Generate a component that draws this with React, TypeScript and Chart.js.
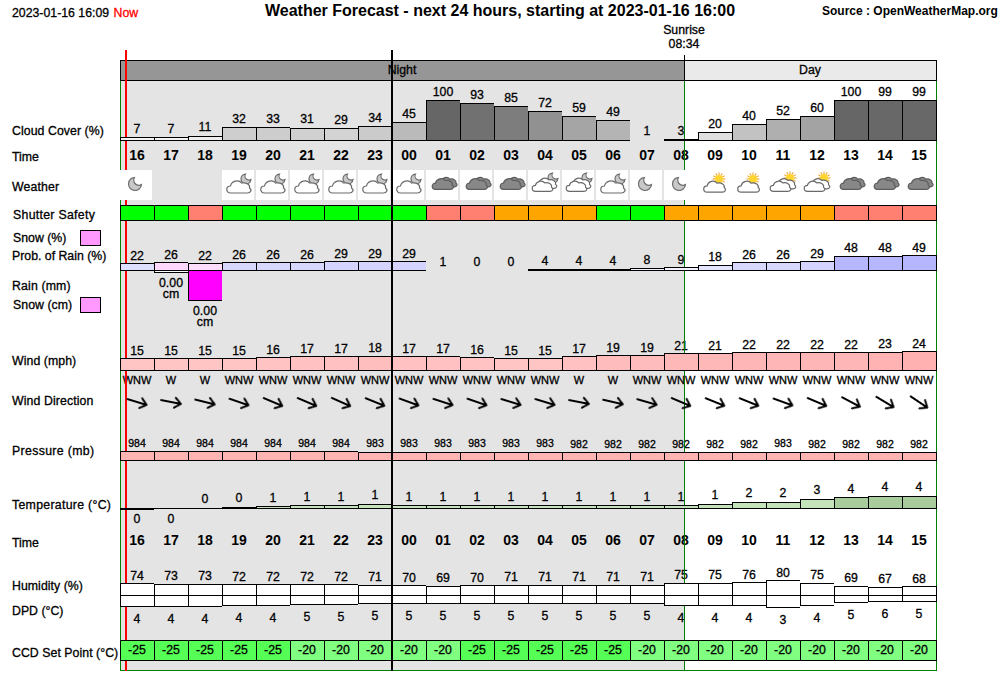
import React, { useEffect, useRef } from "react";
import { Chart, registerables } from "chart.js";

Chart.register(...registerables);

// ---------- data ----------
const hours = ["16","17","18","19","20","21","22","23","00","01","02","03","04","05","06","07","08","09","10","11","12","13","14","15"];
const cloudCover = [7,7,11,32,33,31,29,34,45,100,93,85,72,59,49,1,3,20,40,52,60,100,99,99];
const weatherKinds = ["moon",null,null,"cloudMoon","cloudMoon","cloudMoon","cloudMoon","cloudMoon","cloudMoon","dark","dark","dark","cloudsMoon","cloudsMoon","cloudMoon","moon","moon","cloudSun","cloudSun","cloudsSun","cloudsSun","dark","dark","dark"];
const shutterSafety = ["safe","safe","risk","safe","safe","safe","safe","safe","safe","risk","risk","warn","warn","warn","safe","safe","warn","warn","warn","warn","warn","risk","risk","risk"];
const rainProbability = [22,26,22,26,26,26,29,29,29,1,0,0,4,4,4,8,9,18,26,26,29,48,48,49];
const snowAmount = [0,0.0002,0.003,0,0,0,0,0,0,0,0,0,0,0,0,0,0,0,0,0,0,0,0,0];
const windSpeed = [15,15,15,15,16,17,17,18,17,17,16,15,15,17,19,19,21,21,22,22,22,22,23,24];
const windNames = ["WNW","W","W","WNW","WNW","WNW","WNW","WNW","WNW","WNW","WNW","WNW","WNW","W","W","WNW","WNW","WNW","WNW","WNW","WNW","WNW","WNW","WNW"];
const windDegrees = [287,281,284,289,293,293,294,292,290,288,289,287,287,281,283,286,293,292,292,290,293,298,301,304];
const pressure = [984,984,984,984,984,984,984,983,983,983,983,983,983,982,982,982,982,982,982,983,982,982,982,982];
const temperature = [-0.3,-0.1,0,0.3,0.6,0.9,0.9,1.3,0.9,0.9,0.9,0.9,0.9,0.9,0.9,0.9,0.9,1.3,2,2,3,3.6,4,4];
const temperatureText = ["0","0","0","0","1","1","1","1","1","1","1","1","1","1","1","1","1","1","2","2","3","4","4","4"];
const humidity = [74,73,73,72,72,72,72,71,70,69,70,71,71,71,71,71,75,75,76,80,75,69,67,68];
const dpdBarLevel = [11,11,11,10,10,9,9,8,8,8,8,8,8,8,8,8,10,10,10,12,10,7,6,6];
const dpdText = ["4","4","4","4","4","5","5","5","5","5","5","5","5","5","5","5","4","4","4","3","4","5","6","5"];
const ccdSetPoint = [-25,-25,-25,-25,-25,-20,-20,-20,-20,-20,-25,-25,-25,-25,-25,-20,-20,-20,-20,-20,-20,-20,-20,-20];
const rowLabels = ["Cloud Cover (%)","Time","Weather","Shutter Safety","Snow (%)","Prob. of Rain (%)","Rain (mm)","Snow (cm)","Wind (mph)","Wind Direction","Pressure (mb)","Temperature (°C)","Time","Humidity (%)","DPD (°C)","CCD Set Point (°C)"];
const titleText = "Weather Forecast - next 24 hours, starting at 2023-01-16 16:00";
const nowText = "2023-01-16 16:09";
const sourceText = "Source : OpenWeatherMap.org";
const sunriseText = "08:34";
const sunriseHour = 16.59; // hours after 16:00
const nowHour = 0.15;
const midnightHour = 8;

// ---------- layout ----------
const AREA_TOP = 60;
const AREA_BOTTOM = 671;
const AREA_LEFT = 120;
const AREA_RIGHT = 936;
const PRESSURE_BASE = 966;
const HUMIDITY_BASE = 50;
const LABEL_Y = [130.5,157,187,214.5,237.5,255.5,285.5,304.5,360.5,400.5,450.5,504.5,542.5,585.5,610.5,652.5];
const LABEL_X = [12,12,12,13,13,12,12,13,12,12,12,12,12,12,12,12];
const LABEL_SPACING = [0.07,0,0.15,0.3,0,0,0.15,0.05,0.07,0.1,0.35,0.3,0,0.05,0,0.05];
const FONT = '"Liberation Sans", Arial, sans-serif';
const BODY = "12.3px";

// one row of the panel: pixel of its baseline, pixels per unit, value at the baseline
const ROWS: any = {
  yCloud: { y0: 140, k: 0.4, base: 0 },
  yShutter: { y0: 220, k: 15, base: 0 },
  yProb: { y0: 270, k: 0.3, base: 0 },
  ySnow: { y0: 270, k: 10000, base: 0, reverse: true },
  yWind: { y0: 370, k: 0.8, base: 0 },
  yPressure: { y0: 460, k: 0.5, base: PRESSURE_BASE },
  yTemp: { y0: 508, k: 3, base: 0 },
  yHum: { y0: 595, k: 0.5, base: HUMIDITY_BASE },
  yDpd: { y0: 595, k: 1, base: 0, reverse: true },
  yCcd: { y0: 660, k: 20, base: 0 },
  yWeather: { y0: 185, k: 1, base: 1 },
  yArrow: { y0: 402, k: 1, base: 1 },
};
const rowBounds = (r: any, top: number, bottom: number) =>
  r.reverse
    ? { min: r.base - (r.y0 - top) / r.k, max: r.base + (bottom - r.y0) / r.k }
    : { min: r.base - (bottom - r.y0) / r.k, max: r.base + (r.y0 - top) / r.k };

const rowScales: any = {};
Object.keys(ROWS).forEach((id) => {
  rowScales[id] = {
    type: "linear", display: false, bounds: "data", beginAtZero: false, reverse: !!ROWS[id].reverse,
    ...rowBounds(ROWS[id], AREA_TOP, AREA_BOTTOM),
  };
});

const edge = (show: (i: number) => boolean = () => true) => (c: any) =>
  show(c.dataIndex)
    ? { top: 1, left: 1, bottom: 1, right: c.dataIndex === hours.length - 1 ? 1 : 0 }
    : 0;

const barDefaults = {
  type: "bar", grouped: false, barPercentage: 1, categoryPercentage: 1, inflateAmount: 0,
  borderSkipped: false, borderColor: "#000", clip: false, xAxisID: "x",
};

const grey = (v: number) => { const g = Math.round(255 - v * 1.53); return `rgb(${g},${g},${g})`; };
const safetyColor: any = { safe: "#00ff00", warn: "#ffa500", risk: "#ff8070" };

// ---------- weather icons ----------
function cloud(c: CanvasRenderingContext2D, x: number, y: number, s: number, fill: string, line: string) {
  c.save();
  c.translate(x, y);
  c.scale(s, s);
  c.beginPath();
  c.moveTo(4, 14);
  c.bezierCurveTo(-1, 14, -1, 7, 4, 7);
  c.bezierCurveTo(5, 2, 12, 0, 15, 4);
  c.bezierCurveTo(20, 3, 24, 6, 23, 9);
  c.bezierCurveTo(26, 11, 24, 14, 21, 14);
  c.closePath();
  c.fillStyle = fill;
  c.fill();
  c.lineWidth = 1.2 / s;
  c.strokeStyle = line;
  c.stroke();
  c.restore();
}
function moon(c: CanvasRenderingContext2D, x: number, y: number, r: number) {
  const dx = r * 0.6, dy = -r * 0.6, r2 = r * 0.8;
  const d = Math.hypot(dx, dy);
  const a = (r * r - r2 * r2 + d * d) / (2 * d);
  const phi = Math.acos(a / r);
  const theta = Math.atan2(dy, dx);
  const px = r * Math.cos(theta - phi) - dx, py = r * Math.sin(theta - phi) - dy;
  const qx = r * Math.cos(theta + phi) - dx, qy = r * Math.sin(theta + phi) - dy;
  c.save();
  c.beginPath();
  c.arc(x, y, r, theta + phi, theta - phi + Math.PI * 2, false);
  c.arc(x + dx, y + dy, r2, Math.atan2(py, px), Math.atan2(qy, qx), true);
  c.closePath();
  c.fillStyle = "#c8c8c8";
  c.fill();
  c.lineWidth = 1.2;
  c.strokeStyle = "#6e6e6e";
  c.stroke();
  c.restore();
}
function sun(c: CanvasRenderingContext2D, x: number, y: number) {
  c.save();
  c.strokeStyle = "#f2a93b";
  c.lineWidth = 1.2;
  for (let a = 0; a < 12; a++) {
    const t = (a / 12) * Math.PI * 2;
    c.beginPath();
    c.moveTo(x + Math.cos(t) * 4, y + Math.sin(t) * 4);
    c.lineTo(x + Math.cos(t) * 6.5, y + Math.sin(t) * 6.5);
    c.stroke();
  }
  c.beginPath();
  c.arc(x, y, 4, 0, Math.PI * 2);
  c.fillStyle = "#ffd52e";
  c.fill();
  c.restore();
}
function makeIcon(kind: string | null) {
  const cv = document.createElement("canvas");
  cv.width = 34;
  cv.height = 30;
  const c = cv.getContext("2d")!;
  c.fillStyle = "#fff";
  c.fillRect(0, 0, 32, 30);
  const W = "#ffffff", L = "#6a6a6a";
  if (kind === "moon") moon(c, 15, 14, 6.5);
  if (kind === "cloudMoon") { moon(c, 24, 9, 5); cloud(c, 4.5, 9, 1, W, L); }
  if (kind === "cloudsMoon") { moon(c, 25, 8, 5); cloud(c, 8, 6.5, 0.85, W, L); cloud(c, 4, 9.5, 0.85, W, L); }
  if (kind === "cloudSun") { sun(c, 21, 9); cloud(c, 5.5, 9.5, 0.9, W, L); }
  if (kind === "cloudsSun") { sun(c, 24, 8); cloud(c, 9, 7, 0.85, W, L); cloud(c, 4, 9.5, 0.85, W, L); }
  if (kind === "dark") { cloud(c, 12, 6, 0.78, "#888", "#5c5c5c"); cloud(c, 6, 7, 0.88, "#888", "#5c5c5c"); }
  return cv;
}
function makeArrow() {
  const cv = document.createElement("canvas");
  cv.width = 30;
  cv.height = 30;
  const c = cv.getContext("2d")!;
  c.strokeStyle = "#000";
  c.lineWidth = 2;
  c.lineCap = "round";
  c.lineJoin = "round";
  c.beginPath();
  c.moveTo(5, 15);
  c.lineTo(25, 15);
  c.moveTo(19, 10);
  c.lineTo(25, 15);
  c.lineTo(19, 20);
  c.stroke();
  return cv;
}

// ---------- plugins ----------
const fitRows = {
  id: "fitRows",
  afterLayout(chart: any) {
    Object.keys(ROWS).forEach((id) => {
      const sc = chart.scales[id];
      const b = rowBounds(ROWS[id], sc.top, sc.bottom);
      sc.min = b.min;
      sc.max = b.max;
      sc.configure();
    });
  },
};

const snapBars = {
  id: "snapBars",
  afterDatasetsUpdate(chart: any) {
    chart.data.datasets.forEach((_: any, i: number) => {
      const meta = chart.getDatasetMeta(i);
      if (meta.type !== "bar") return;
      meta.data.forEach((el: any, idx: number) => {
        const y = Math.round(el.y), b = Math.round(el.base);
        if (y > b) { el.y = y + 1; el.base = b; }
        else { el.y = y; el.base = b + 1; }
        el.width = 34;
        if (idx === hours.length - 1) { el.width = 35; el.x += 0.5; }
      });
    });
  },
};

function txt(c: any, s: string, x: number, y: number, font: string, color = "#000", align = "center", spacing = 0) {
  c.font = `${font} ${FONT}`;
  c.letterSpacing = `${spacing}px`;
  c.fillStyle = color;
  c.textAlign = align;
  c.textBaseline = "middle";
  c.fillText(s, x, y + 1);
  if (!font.startsWith("bold")) {
    c.strokeStyle = color;
    c.lineWidth = 0.3;
    c.strokeText(s, x, y + 1);
  }
  c.letterSpacing = "0px";
}

// an hour offset, 0 being the left edge of the first column, on the category axis
const hourPixel = (chart: any, hour: number) => chart.scales.x.getPixelForValue(hour - 0.5);

const decor = {
  id: "decor",
  beforeDraw(chart: any) {
    chart.ctx.fillStyle = "#fff";
    chart.ctx.fillRect(0, 0, chart.width, chart.height);
  },
  beforeDatasetsDraw(chart: any) {
    const c = chart.ctx, s = chart.scales;
    const sx = Math.round(hourPixel(chart, sunriseHour));
    const nx = Math.ceil(hourPixel(chart, nowHour));
    const cx = (i: number) => s.x.getPixelForValue(i);
    c.save();
    // night background
    c.fillStyle = "#e4e4e4";
    c.fillRect(AREA_LEFT, 80, sx - AREA_LEFT, AREA_BOTTOM - 1 - 80);
    // night / day band
    c.fillStyle = "#000";
    c.fillRect(AREA_LEFT, 60, AREA_RIGHT + 1 - AREA_LEFT, 21);
    c.fillStyle = "#969696";
    c.fillRect(AREA_LEFT + 1, 61, sx - AREA_LEFT - 1, 19);
    c.fillStyle = "#eaeaea";
    c.fillRect(sx + 1, 61, AREA_RIGHT - sx - 1, 19);
    txt(c, "Night", (AREA_LEFT + sx) / 2, 70, BODY);
    txt(c, "Day", (sx + AREA_RIGHT) / 2, 70, BODY);

    // page texts
    txt(c, nowText, 12, 13, BODY, "#000", "left");
    txt(c, "Now", 113.5, 13, BODY, "#f00", "left");
    txt(c, titleText, 500, 11, "bold 16px");
    txt(c, sourceText, 822, 10.5, "bold 12px", "#000", "left");
    txt(c, "Sunrise", sx, 30, BODY);
    txt(c, sunriseText, sx, 44, BODY);
    rowLabels.forEach((t, i) => txt(c, t, LABEL_X[i], LABEL_Y[i], BODY, "#000", "left", LABEL_SPACING[i]));

    // legend swatches
    [230, 297].forEach((y) => {
      c.fillStyle = "#000";
      c.fillRect(80, y, 21, 16);
      c.fillStyle = "#ff99ff";
      c.fillRect(81, y + 1, 19, 14);
    });

    // value labels
    hours.forEach((h, i) => {
      const x = cx(i);
      txt(c, String(cloudCover[i]), x, s.yCloud.getPixelForValue(cloudCover[i]) - 8.5, BODY);
      txt(c, h, x, 155.5, "bold 14px");
      txt(c, h, x, 540.5, "bold 14px");
      txt(c, String(rainProbability[i]), x, s.yProb.getPixelForValue(rainProbability[i]) - 8, BODY);
      if (snowAmount[i] > 0) {
        const b = s.ySnow.getPixelForValue(snowAmount[i]);
        txt(c, snowAmount[i].toFixed(2), x, b + 11, BODY);
        txt(c, "cm", x, b + 22, BODY);
      }
      txt(c, String(windSpeed[i]), x, s.yWind.getPixelForValue(windSpeed[i]) - 7.5, BODY);
      txt(c, windNames[i], x, 380, "11px");
      txt(c, String(pressure[i]), x, s.yPressure.getPixelForValue(pressure[i]) - 8, "10.5px");
      const tv = temperature[i];
      const ty = s.yTemp.getPixelForValue(tv);
      txt(c, temperatureText[i], x, tv < 0 ? ty + 10 : ty - 9, BODY);
      txt(c, String(humidity[i]), x, s.yHum.getPixelForValue(humidity[i]) - 7.5, BODY);
      txt(c, dpdText[i], x, s.yDpd.getPixelForValue(dpdBarLevel[i]) + 13, BODY);
    });

    // green frame
    c.fillStyle = "#008000";
    c.fillRect(AREA_LEFT, 81, 1, AREA_BOTTOM - 81);
    c.fillRect(AREA_RIGHT, 81, 1, AREA_BOTTOM - 81);
    c.fillRect(sx, 81, 1, AREA_BOTTOM - 81);
    c.fillRect(AREA_LEFT, AREA_BOTTOM - 1, AREA_RIGHT + 1 - AREA_LEFT, 1);
    // now line
    c.fillStyle = "#f00";
    c.fillRect(nx - 1, 50, 2, AREA_BOTTOM - 50);
    c.restore();
  },
  afterDatasetsDraw(chart: any) {
    const c = chart.ctx, s = chart.scales;
    c.save();
    hours.forEach((_, i) => {
      txt(c, String(ccdSetPoint[i]), s.x.getPixelForValue(i), s.yCcd.getPixelForValue(0.5) - 0.5, BODY);
    });
    const sx = Math.round(hourPixel(chart, sunriseHour));
    c.fillStyle = "#000";
    c.fillRect(sx, 55, 1, 26);
    const mx = Math.ceil(hourPixel(chart, midnightHour));
    c.fillRect(mx - 1, 50, 2, AREA_BOTTOM - 50);
    c.restore();
  },
};

export default function App() {
  const ref = useRef<HTMLCanvasElement | null>(null);
  useEffect(() => {
    const canvas = ref.current!;
    canvas.getContext("2d", { alpha: false });
    const icons = weatherKinds.map(makeIcon);
    const arrow = makeArrow();
    const chart = new Chart(canvas, {
      type: "bar",
      plugins: [fitRows, snapBars, decor],
      data: {
        labels: hours,
        datasets: [
          { ...barDefaults, label: "Cloud Cover", yAxisID: "yCloud", data: cloudCover,
            backgroundColor: (c: any) => (cloudCover[c.dataIndex] < 2 ? "transparent" : grey(cloudCover[c.dataIndex])),
            borderWidth: edge((i) => cloudCover[i] >= 2) },
          { ...barDefaults, label: "Shutter Safety", yAxisID: "yShutter", data: shutterSafety.map(() => 1),
            backgroundColor: (c: any) => safetyColor[shutterSafety[c.dataIndex]], borderWidth: edge() },
          { ...barDefaults, label: "Prob. of Rain", yAxisID: "yProb", data: rainProbability,
            backgroundColor: (c: any) => {
              const v = rainProbability[c.dataIndex];
              if (v < 2) return "transparent";
              const g = Math.round(255 - v * 1.5);
              return snowAmount[c.dataIndex] > 0 ? `rgb(255,${g},255)` : `rgb(${g},${g},255)`;
            },
            borderWidth: edge((i) => rainProbability[i] >= 2) },
          { ...barDefaults, label: "Snow", yAxisID: "ySnow", data: snowAmount,
            backgroundColor: (c: any) => {
              const v = snowAmount[c.dataIndex];
              return v <= 0 ? "transparent" : v >= 0.002 ? "#ff00ff" : "#fff";
            },
            borderWidth: edge((i) => snowAmount[i] > 0) },
          { ...barDefaults, label: "Wind", yAxisID: "yWind", data: windSpeed,
            backgroundColor: (c: any) => { const g = Math.round(230 - windSpeed[c.dataIndex] * 2.2); return `rgb(255,${g},${g})`; },
            borderWidth: edge() },
          { ...barDefaults, label: "Pressure", yAxisID: "yPressure", data: pressure.map((p) => [PRESSURE_BASE, p]),
            backgroundColor: "#ffb4b4", borderWidth: edge() },
          { ...barDefaults, label: "Temperature", yAxisID: "yTemp", data: temperature,
            backgroundColor: (c: any) => (temperature[c.dataIndex] >= 3.5 ? "#a9cc9d" : "#c5e3ba"), borderWidth: edge() },
          { ...barDefaults, label: "Humidity", yAxisID: "yHum", data: humidity.map((h) => [HUMIDITY_BASE, h]),
            backgroundColor: "#fff", borderWidth: edge() },
          { ...barDefaults, label: "DPD", yAxisID: "yDpd", data: dpdBarLevel,
            backgroundColor: "#fff", borderWidth: edge() },
          { ...barDefaults, label: "CCD", yAxisID: "yCcd", data: ccdSetPoint.map(() => 1),
            backgroundColor: (c: any) => (ccdSetPoint[c.dataIndex] === -25 ? "#55ff55" : "#80ff80"), borderWidth: edge() },
          { type: "line", label: "Weather", yAxisID: "yWeather", xAxisID: "x", showLine: false, clip: false,
            data: weatherKinds.map((k) => (k ? 1 : null)),
            pointStyle: icons, pointRadius: 15, pointHoverRadius: 15 },
          { type: "line", label: "Wind Direction", yAxisID: "yArrow", xAxisID: "x", showLine: false, clip: false,
            data: windDegrees.map(() => 1),
            pointStyle: arrow, pointRadius: 15, pointHoverRadius: 15,
            pointRotation: windDegrees.map((d) => d - 270) },
        ] as any,
      },
      options: {
        responsive: false,
        animation: false,
        devicePixelRatio: 1,
        events: [],
        layout: { padding: { left: AREA_LEFT, right: 1000 - AREA_RIGHT, top: AREA_TOP, bottom: 680 - AREA_BOTTOM } },
        plugins: { legend: { display: false }, title: { display: false }, tooltip: { enabled: false } },
        scales: {
          x: { type: "category", offset: true, display: false },
          ...rowScales,
        },
      } as any,
    } as any);
    return () => chart.destroy();
  }, []);
  return (
    <canvas
      ref={ref}
      width={1000}
      height={680}
      style={{ position: "fixed", left: 0, top: 0, width: 1000, height: 680, display: "block" }}
    />
  );
}
